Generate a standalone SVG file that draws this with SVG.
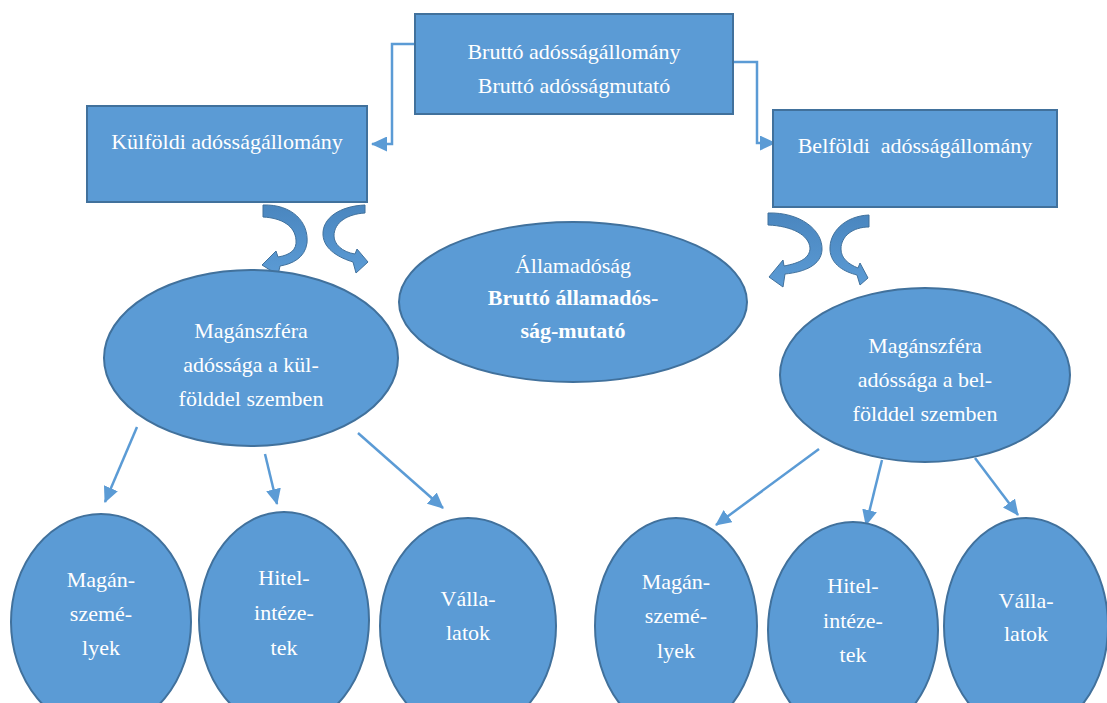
<svg xmlns="http://www.w3.org/2000/svg" width="1107" height="703" viewBox="0 0 1107 703">
<style>
.n{fill:#5B9BD5;stroke:#41719C;stroke-width:2}
.t{font-family:"Liberation Serif","Times New Roman",serif;font-size:22px;fill:#FFFFFF;text-anchor:middle}
.b{font-weight:bold}
.c{fill:none;stroke:#5B9BD5;stroke-width:2.5}
.ca{fill:url(#cg);stroke:#41719C;stroke-width:1}
</style>
<defs>
<marker id="ah" markerUnits="userSpaceOnUse" markerWidth="17" markerHeight="15" refX="15" refY="7.5" orient="auto" viewBox="0 0 17 15">
<path d="M0,0 L16,7.5 L0,15 z" fill="#5B9BD5"/>
</marker>
<linearGradient id="cg" x1="0" y1="0" x2="0" y2="1">
<stop offset="0" stop-color="#4A86BF"/>
<stop offset="1" stop-color="#5B9BD5"/>
</linearGradient>
</defs>
<g id="connectors">
<polyline class="c" points="415,44 392,44 392,144 372,144" marker-end="url(#ah)"/>
<polyline class="c" points="733,62 757,62 757,143 775,143" marker-end="url(#ah)"/>
<line class="c" x1="137" y1="427" x2="105" y2="502" marker-end="url(#ah)"/>
<line class="c" x1="265" y1="454" x2="277" y2="504" marker-end="url(#ah)"/>
<line class="c" x1="358" y1="433" x2="443" y2="508" marker-end="url(#ah)"/>
<line class="c" x1="819" y1="449" x2="716" y2="525" marker-end="url(#ah)"/>
<line class="c" x1="882" y1="460" x2="866" y2="525" marker-end="url(#ah)"/>
<line class="c" x1="975" y1="458" x2="1018" y2="515" marker-end="url(#ah)"/>
<path class="ca" d="M263,205 C292,204 309,222 307,243 C305,258 292,264 280,266 L278,275 L262,265 L276,251 L278,257 C290,255 297,250 296,240 C295,226 282,218 263,217 Z"/>
<path class="ca" d="M365,205 C340,206 322,218 323,235 C324,250 340,258 353,262 L356,273 L368,262 L357,249 L355,254 C342,252 334,244 334,236 C334,222 348,214 365,213 Z"/>
<path class="ca" d="M768,213 C800,212 823,230 822,250 C821,265 805,272 785,274 L783,287 L769,277 L783,260 L784,266 C800,263 810,258 810,248 C809,235 792,226 768,225 Z"/>
<path class="ca" d="M869,215 C845,216 829,232 830,250 C831,265 845,272 857,275 L860,285 L868,278 L860,263 L858,268 C848,264 841,258 841,249 C841,236 853,227 869,227 Z"/>
</g>
<g id="top">
<rect class="n" x="415" y="14" width="318" height="100"/>
<text class="t" x="574" y="59">Bruttó adósságállomány</text>
<text class="t" x="574" y="93">Bruttó adósságmutató</text>
</g>
<g id="kulfoldi">
<rect class="n" x="87" y="106" width="280" height="96"/>
<text class="t" x="227" y="149">Külföldi adósságállomány</text>
</g>
<g id="belfoldi">
<rect class="n" x="773" y="110" width="284" height="97"/>
<text class="t" x="915" y="153" style="white-space:pre">Belföldi  adósságállomány</text>
</g>
<g id="allamadossag">
<ellipse class="n" cx="573" cy="302" rx="174" ry="80"/>
<text class="t" x="573" y="273">Államadóság</text>
<text class="t b" x="573" y="305">Bruttó államadós-</text>
<text class="t b" x="573" y="338">ság-mutató</text>
</g>
<g id="magan-kul">
<ellipse class="n" cx="251" cy="358" rx="147" ry="88"/>
<text class="t" x="251" y="338">Magánszféra</text>
<text class="t" x="251" y="372">adóssága a kül-</text>
<text class="t" x="251" y="406">földdel szemben</text>
</g>
<g id="magan-bel">
<ellipse class="n" cx="925" cy="375" rx="145" ry="87"/>
<text class="t" x="925" y="353">Magánszféra</text>
<text class="t" x="925" y="387">adóssága a bel-</text>
<text class="t" x="925" y="421">földdel szemben</text>
</g>
<g id="k-maganszemelyek">
<ellipse class="n" cx="101" cy="622" rx="90" ry="108"/>
<text class="t" x="101" y="587">Magán-</text>
<text class="t" x="101" y="621">szemé-</text>
<text class="t" x="101" y="655">lyek</text>
</g>
<g id="k-hitelintezetek">
<ellipse class="n" cx="284" cy="620" rx="85" ry="108"/>
<text class="t" x="284" y="585">Hitel-</text>
<text class="t" x="284" y="620">intéze-</text>
<text class="t" x="284" y="655">tek</text>
</g>
<g id="k-vallalatok">
<ellipse class="n" cx="468" cy="626" rx="88" ry="108"/>
<text class="t" x="468" y="606">Válla-</text>
<text class="t" x="468" y="640">latok</text>
</g>
<g id="b-maganszemelyek">
<ellipse class="n" cx="676" cy="626" rx="81" ry="108"/>
<text class="t" x="676" y="589">Magán-</text>
<text class="t" x="676" y="623">szemé-</text>
<text class="t" x="676" y="658">lyek</text>
</g>
<g id="b-hitelintezetek">
<ellipse class="n" cx="853" cy="630" rx="85" ry="108"/>
<text class="t" x="853" y="593">Hitel-</text>
<text class="t" x="853" y="628">intéze-</text>
<text class="t" x="853" y="662">tek</text>
</g>
<g id="b-vallalatok">
<ellipse class="n" cx="1026" cy="626" rx="82" ry="108"/>
<text class="t" x="1026" y="608">Válla-</text>
<text class="t" x="1026" y="641">latok</text>
</g>
</svg>
